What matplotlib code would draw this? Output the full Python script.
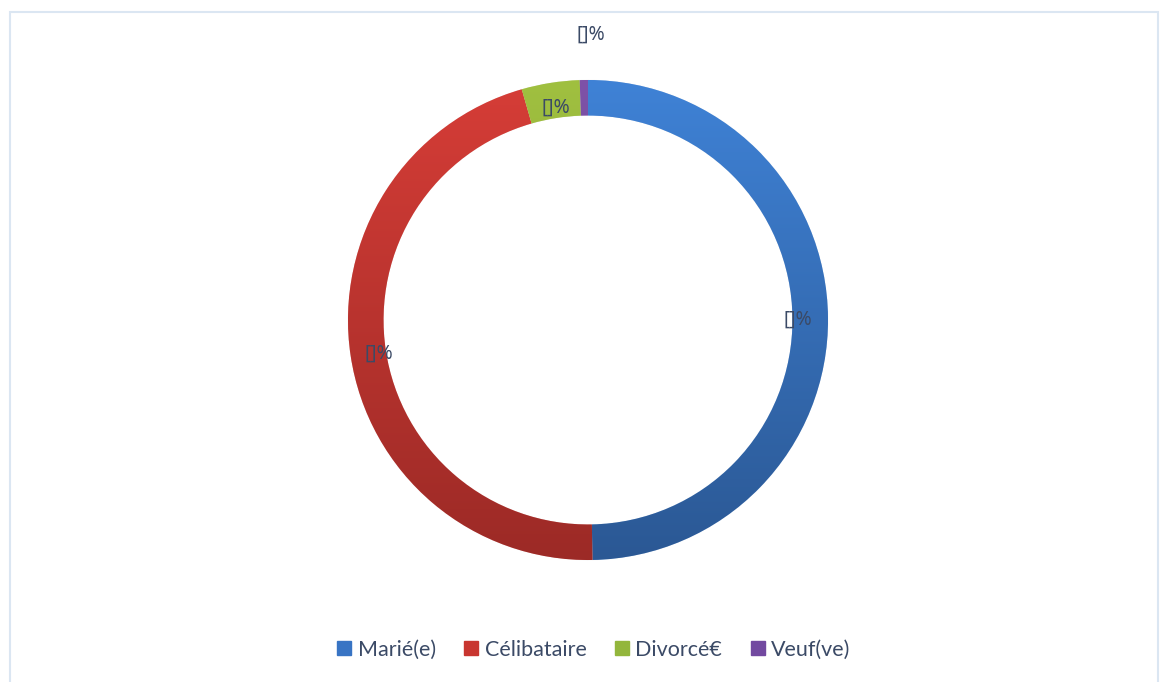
import matplotlib.pyplot as plt
import numpy as np
from matplotlib.colors import LinearSegmentedColormap
from matplotlib.lines import Line2D
from matplotlib.patches import Rectangle

categories = ["Marié(e)", "Célibataire", "Divorcé€", "Veuf(ve)"]
shares = [49.7, 45.85, 3.9, 0.55]
label_texts = ["[]%", "[]%", "[]%", "[]%"]

# light (top) and dark (bottom) shade of each ring segment
top_colors = ["#3f82d6", "#d63d37", "#a0c040", "#7e52a8"]
bottom_colors = ["#2b5894", "#9c2a26", "#7f9a30", "#5f3d80"]
legend_colors = ["#3874c4", "#c8352f", "#93b63c", "#7249a0"]

TEXT_COLOR = "#3b4a66"
W, H = 1162, 682

fig = plt.figure(figsize=(W / 100, H / 100), dpi=100)
fig.patch.set_facecolor("white")

# chart-area frame
frame = Rectangle((10 / W, -0.05), 1148 / W, 1 - 12 / H + 0.05,
                  transform=fig.transFigure, fill=False,
                  edgecolor="#dbe6f2", linewidth=1.5)
fig.patches.append(frame)

cx, cy, r = 588, 320, 240
ax = fig.add_axes([(cx - r) / W, (H - cy - r) / H, 2 * r / W, 2 * r / H])
ax.set_aspect("equal")

wedges, _ = ax.pie(shares, startangle=90, counterclock=False,
                   radius=1.0, wedgeprops=dict(width=0.148, linewidth=0.4,
                                               edgecolor="#f4f4f4"))

grad = np.linspace(0, 1, 256).reshape(-1, 1)
for w, c_top, c_bot in zip(wedges, top_colors, bottom_colors):
    w.set_facecolor(c_top)
    cmap = LinearSegmentedColormap.from_list("g", [c_bot, c_top])
    im = ax.imshow(grad, cmap=cmap, origin="lower", extent=(-1, 1, -1, 1),
                   aspect="auto", zorder=w.get_zorder() + 0.1)
    im.set_clip_path(w)

ax.set_xlim(-1, 1)
ax.set_ylim(-1, 1)
ax.axis("off")

# data labels: three inside the ring, the smallest one above it
label_pos = [(0.874, 0.0), (-0.87, -0.14), (-0.135, 0.885), (0.01, 1.19)]
for (lx, ly), txt in zip(label_pos, label_texts):
    ax.text(lx, ly, txt, ha="center", va="center", fontsize=14,
            color=TEXT_COLOR, family="Noto Sans", clip_on=False)

handles = [Line2D([], [], marker="s", linestyle="none", markersize=9.5,
                  markerfacecolor=c, markeredgecolor=c)
           for c in legend_colors]
fig.legend(handles, categories, loc="center", ncol=4,
           bbox_to_anchor=(592 / W, 1 - 650 / H), frameon=False,
           prop=dict(family="Lato", size=15.5), labelcolor=TEXT_COLOR,
           handletextpad=0.12, columnspacing=1.15, handlelength=1.0)

fig.savefig("out.png", dpi=100)
